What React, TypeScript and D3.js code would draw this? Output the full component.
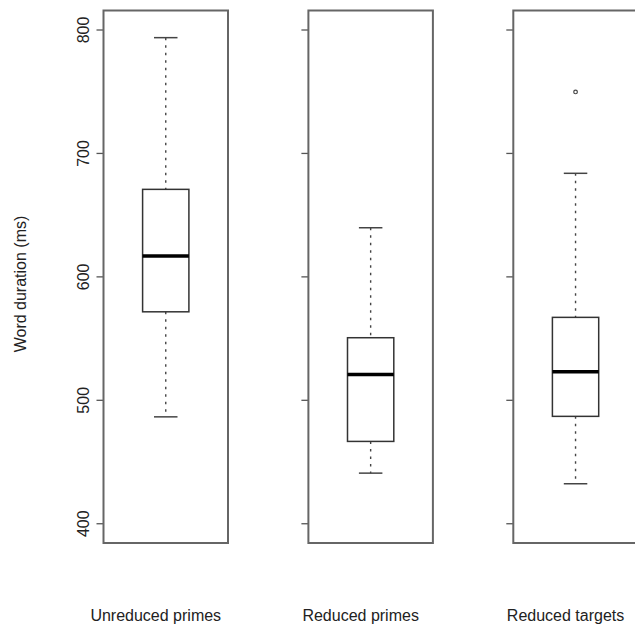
import React from "react";
import * as d3 from "d3";

const categories = ["Unreduced primes", "Reduced primes", "Reduced targets"];
const whiskerLow = [486.6, 441, 432.4];
const q1 = [571.7, 466.7, 487];
const median = [616.9, 521, 523.1];
const q3 = [670.9, 550.7, 567.2];
const whiskerHigh = [793.8, 639.8, 683.9];
const outliers: number[][] = [[], [], [749.8]];
const yTicks = [400, 500, 600, 700, 800];
const yTitle = "Word duration (ms)";

const W = 635;
const H = 625;
const panelW = 124.5;
const boxW = 46.3;
const capW = 23.5;
const FONT = "'Liberation Sans', Arial, Helvetica, sans-serif";

export default function App() {
  const y = d3.scaleLinear().domain([384.4, 815.8]).range([543, 10.5]);
  const x = d3.scalePoint<string>().domain(categories).range([165.75, 575.55]);

  return (
    <svg
      width={W}
      height={H}
      style={{ position: "fixed", left: 0, top: 0, background: "#fff" }}
      fontFamily={FONT}
    >
      <rect x={0} y={0} width={W} height={H} fill="#fff" />
      <text
        transform={`translate(26,${284}) rotate(-90)`}
        textAnchor="middle"
        fontSize={16}
        fill="#222"
      >
        {yTitle}
      </text>
      {categories.map((c, i) => {
        const cx = x(c)!;
        const left = cx - panelW / 2;
        const top = y.range()[1];
        const bottom = y.range()[0];
        return (
          <g key={c}>
            {/* ticks */}
            {yTicks.map((t) => (
              <line
                key={t}
                x1={left - 7}
                x2={left}
                y1={y(t)}
                y2={y(t)}
                stroke="#555"
                strokeWidth={1.3}
              />
            ))}
            {i === 0 &&
              yTicks.map((t) => (
                <text
                  key={"l" + t}
                  transform={`translate(${left - 14.5},${y(t)}) rotate(-90)`}
                  textAnchor="middle"
                  fontSize={16}
                  fill="#222"
                >
                  {t}
                </text>
              ))}
            {/* whiskers */}
            <line
              x1={cx}
              x2={cx}
              y1={y(whiskerHigh[i])}
              y2={y(q3[i])}
              stroke="#444"
              strokeWidth={1.4}
              strokeDasharray="2.5,5"
            />
            <line
              x1={cx}
              x2={cx}
              y1={y(q1[i])}
              y2={y(whiskerLow[i])}
              stroke="#444"
              strokeWidth={1.4}
              strokeDasharray="2.5,5"
            />
            <line
              x1={cx - capW / 2}
              x2={cx + capW / 2}
              y1={y(whiskerHigh[i])}
              y2={y(whiskerHigh[i])}
              stroke="#444"
              strokeWidth={1.5}
            />
            <line
              x1={cx - capW / 2}
              x2={cx + capW / 2}
              y1={y(whiskerLow[i])}
              y2={y(whiskerLow[i])}
              stroke="#444"
              strokeWidth={1.5}
            />
            {/* box */}
            <rect
              x={cx - boxW / 2}
              y={y(q3[i])}
              width={boxW}
              height={y(q1[i]) - y(q3[i])}
              fill="none"
              stroke="#333"
              strokeWidth={1.5}
            />
            <line
              x1={cx - boxW / 2}
              x2={cx + boxW / 2}
              y1={y(median[i])}
              y2={y(median[i])}
              stroke="#000"
              strokeWidth={3.5}
            />
            {outliers[i].map((o, k) => (
              <circle
                key={k}
                cx={cx}
                cy={y(o)}
                r={1.8}
                fill="none"
                stroke="#444"
                strokeWidth={1.2}
              />
            ))}
            {/* frame */}
            <rect
              x={left}
              y={top}
              width={panelW}
              height={bottom - top}
              fill="none"
              stroke="#666"
              strokeWidth={2}
            />
            <text
              x={cx - 10}
              y={621}
              textAnchor="middle"
              fontSize={16}
              fill="#222"
            >
              {c}
            </text>
          </g>
        );
      })}
    </svg>
  );
}
